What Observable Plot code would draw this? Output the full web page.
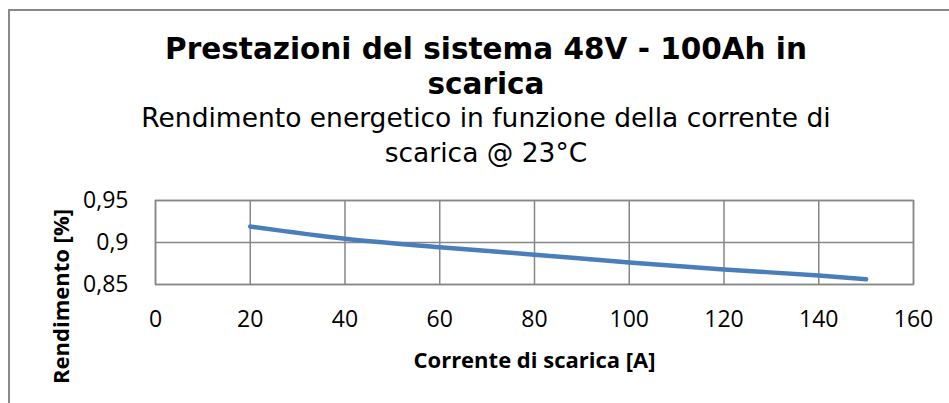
<!DOCTYPE html>
<html>
<head>
<meta charset="utf-8">
<script src="https://cdn.jsdelivr.net/npm/d3@7"></script>
<script src="https://cdn.jsdelivr.net/npm/@observablehq/plot@0.6"></script>
<style>
  html, body { margin: 0; padding: 0; background: #fff; }
  body { width: 949px; height: 403px; overflow: hidden; position: relative; }
  #frame { position: absolute; left: 8px; top: 9px; width: 1000px; height: 1000px; border: 2px solid #898989; box-sizing: border-box; }
  #title { position: absolute; left: 8px; width: 956px; top: 31.5px; text-align: center;
           font-family: "DejaVu Sans", sans-serif; font-weight: bold; font-size: 29.5px; line-height: 35px; color: #000; }
  #subtitle { position: absolute; left: 8px; width: 956px; top: 100px; text-align: center;
           font-family: "DejaVu Sans", sans-serif; font-size: 26.5px; line-height: 35px; color: #000; }
  #chart { position: absolute; left: 0; top: 180px; }
</style>
</head>
<body>
<div id="frame"></div>
<div id="title"></div>
<div id="subtitle"></div>
<div id="chart"></div>
<script>
const titleLines = ["Prestazioni del sistema 48V - 100Ah in", "scarica"];
const subtitleLines = ["Rendimento energetico in funzione della corrente di", "scarica @ 23°C"];
const xLabel = "Corrente di scarica [A]";
const yLabel = "Rendimento [%]";

const currents = [20, 40, 60, 80, 100, 120, 140, 150];
const efficiency = [0.919, 0.9044, 0.8944, 0.8855, 0.8762, 0.8679, 0.8607, 0.8563];

const xTicks = [0, 20, 40, 60, 80, 100, 120, 140, 160];
const yTicks = [0.85, 0.9, 0.95];

document.getElementById("title").innerHTML = titleLines.join("<br>");
document.getElementById("subtitle").innerHTML = subtitleLines.join("<br>");

const data = currents.map((c, i) => ({x: c, y: efficiency[i]}));
const fmt = d => String(d).replace(".", ",");
const gridColor = "#878787";

const chart = Plot.plot({
  width: 949,
  height: 223,
  marginLeft: 155,
  marginRight: 36,
  marginTop: 20,
  marginBottom: 119,
  style: {fontFamily: "'Open Sans', sans-serif", fontSize: "23px", color: "#000", background: "transparent", overflow: "visible"},
  x: {domain: [0, 160]},
  y: {domain: [0.85, 0.95]},
  marks: [
    Plot.gridX(xTicks, {stroke: gridColor, strokeOpacity: 1, strokeWidth: 1.5}),
    Plot.gridY(yTicks, {stroke: gridColor, strokeOpacity: 1, strokeWidth: 1.5}),
    Plot.frame({stroke: gridColor, strokeWidth: 1.5}),
    Plot.axisX(xTicks, {tickSize: 0, tickPadding: 26, label: null, fontSize: 23}),
    Plot.axisY(yTicks, {tickSize: 0, tickPadding: 27, label: null, tickFormat: fmt, fontSize: 23}),
    Plot.line(data, {x: "x", y: "y", stroke: "#4A7EBB", strokeWidth: 4.5, curve: "monotone-x", strokeLinecap: "round", strokeLinejoin: "round"}),
    Plot.text([xLabel], {frameAnchor: "bottom", lineAnchor: "bottom", dy: 83, fontSize: 22, fontWeight: "bold", fill: "#000"}),
    Plot.text([yLabel], {frameAnchor: "left", rotate: -90, lineAnchor: "middle", textAnchor: "middle", dx: -94, dy: 54, fontSize: 22, fontWeight: "bold", fill: "#000"})
  ]
});
document.getElementById("chart").appendChild(chart);
</script>
</body>
</html>
